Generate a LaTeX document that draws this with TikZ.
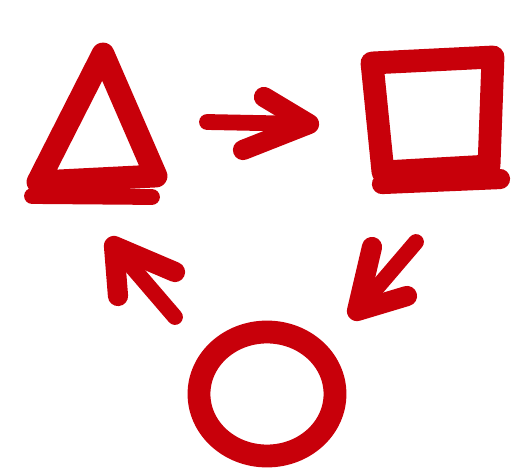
\documentclass[tikz,border=0pt]{standalone}
\usetikzlibrary{calc}
\definecolor{crayonred}{HTML}{C8000A}
\tikzset{
  crayon/.style={draw=crayonred, line width=13pt, line cap=round, line join=round},
  crayonthin/.style={crayon, line width=9pt},
  crayonhead/.style={crayon, line width=11.5pt},
}
\begin{document}
\begin{tikzpicture}[x=0.02cm,y=-0.02cm]
  \useasboundingbox (0,0) rectangle (512,471);
  % Triangle
  \coordinate (triTop) at (103,54);
  \coordinate (triLeft) at (38,182);
  \coordinate (triRight) at (156,176);
  \draw[crayon] (triTop) -- (triLeft) -- (triRight) -- cycle;
  \draw[crayonthin] (32,196) -- (152,197);
  % Square
  \coordinate (sqTL) at (372,63);
  \coordinate (sqTR) at (493,57);
  \coordinate (sqBR) at (489,166);
  \coordinate (sqBL) at (383,172);
  \draw[crayon] (sqTL) -- (sqTR) -- (sqBR) -- (sqBL) -- cycle;
  \draw[crayonhead] (382,184) -- (500,179);
  % Circle
  \coordinate (circ) at (267,394);
  \draw[crayon] (circ) ellipse [x radius=68, y radius=62];
  % Arrow triangle -> square
  \coordinate (tipA) at (309,124);
  \draw[crayonthin] (207,122) -- (tipA);
  \draw[crayonhead] (264,97) -- (tipA) -- (243,150);
  % Arrow square -> circle
  \coordinate (tipB) at (357,311);
  \draw[crayonthin] (416,242) -- (tipB);
  \draw[crayonhead] (372,247) -- (tipB) -- (407,296);
  % Arrow circle -> triangle
  \coordinate (tipC) at (114,246);
  \draw[crayonthin] (175,317) -- (tipC);
  \draw[crayonhead] (175,272) -- (tipC) -- (118,296);
\end{tikzpicture}
\end{document}
